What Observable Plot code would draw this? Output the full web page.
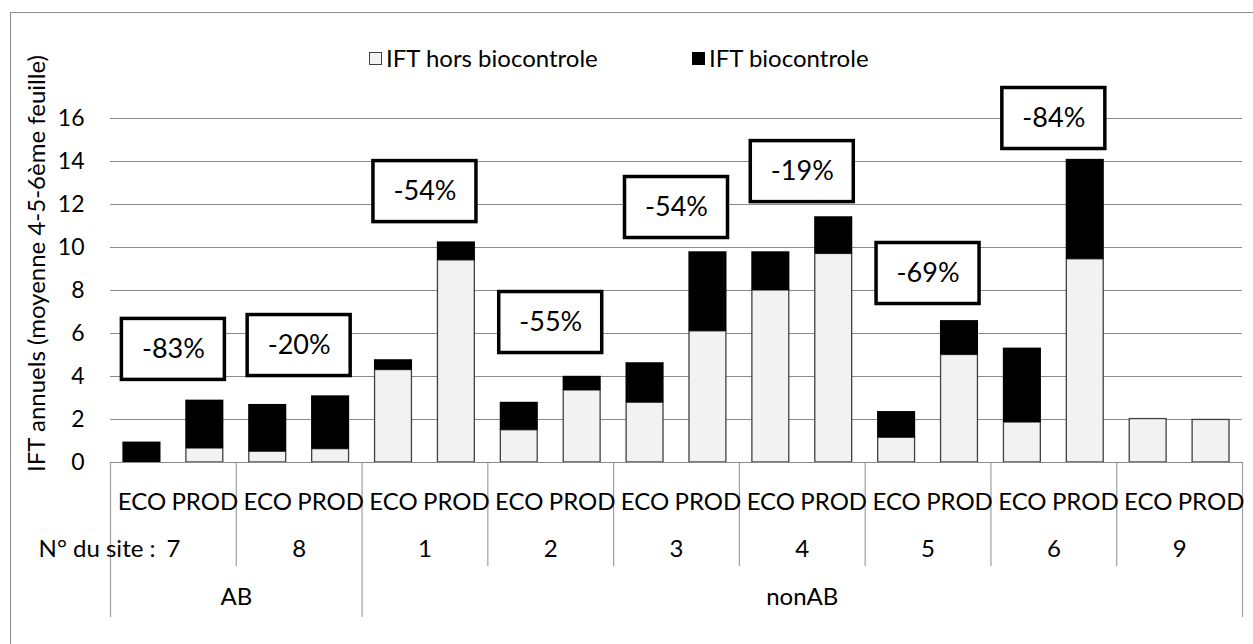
<!DOCTYPE html>
<html><head><meta charset="utf-8">
<script src="https://cdn.jsdelivr.net/npm/d3@7"></script>
<script src="https://cdn.jsdelivr.net/npm/@observablehq/plot@0.6"></script>
<style>
body{margin:0;background:#fff;}
#wrap{position:relative;width:1253px;height:644px;overflow:hidden;font-family:Lato,"Open Sans",sans-serif;color:#000;}
#border{position:absolute;left:10px;top:12px;width:1300px;height:700px;border:1.5px solid #8c8c8c;box-sizing:border-box;}
#chart{position:absolute;left:0;top:0;}
.leg{position:absolute;top:44px;font-size:24px;line-height:28px;white-space:nowrap;display:flex;align-items:center;}
.sw{display:inline-block;width:13px;height:13px;box-sizing:border-box;margin-right:4px;}
</style></head>
<body><div id="wrap"><div id="border"></div><div id="chart"></div>
<div class="leg" style="left:369px"><span class="sw" id="sw0"></span><span id="lg0"></span></div>
<div class="leg" style="left:692px"><span class="sw" id="sw1"></span><span id="lg1"></span></div>
</div>
<script>
// ---- data ----
const groups = ["AB", "nonAB"];
const sites = ["7", "8", "1", "2", "3", "4", "5", "6", "9"];
const siteGroups = ["AB", "AB", "nonAB", "nonAB", "nonAB", "nonAB", "nonAB", "nonAB", "nonAB"];
const types = ["ECO", "PROD"];
const series = ["IFT hors biocontrole", "IFT biocontrole"];
// values per bar, in order site x type (ECO, PROD)
const horsBio = [0, 0.65, 0.5, 0.62, 4.3, 9.4, 1.5, 3.35, 2.78, 6.1, 8.0, 9.7, 1.15, 5.0, 1.86, 9.45, 2.02, 1.98];
const bio = [0.95, 2.25, 2.2, 2.48, 0.48, 0.86, 1.3, 0.66, 1.86, 3.7, 1.8, 1.73, 1.22, 1.6, 3.46, 4.65, 0, 0];
const reductions = ["-83%", "-20%", "-54%", "-55%", "-54%", "-19%", "-69%", "-84%"];
const reductionLevel = [5.26, 5.44, 12.6, 6.51, 11.86, 13.53, 8.79, 16.0];
const yTicks = [0, 2, 4, 6, 8, 10, 12, 14, 16];
const yTitle = "IFT annuels (moyenne 4-5-6ème feuille)";
const siteLabelPrefix = "N° du site :";

// ---- derived tables ----
const rows = [];
sites.forEach((s, i) => types.forEach((t, j) => {
  const k = i * types.length + j;
  rows.push({site: s, type: t, slot: k, hors: horsBio[k], bio: bio[k], total: horsBio[k] + bio[k]});
}));
const nSlots = rows.length;
const siteRows = sites.map((s, i) => ({site: s, center: i * 2 + 1, start: i * 2}));
const groupRows = groups.map(g => {
  const idx = siteGroups.map((v, i) => v === g ? i : -1).filter(i => i >= 0);
  const a = idx[0] * 2, b = (idx[idx.length - 1] + 1) * 2;
  return {group: g, start: a, end: b, center: (a + b) / 2};
});
const groupStarts = new Set(groupRows.map(d => d.start));
const siteSeps = siteRows.filter(d => !groupStarts.has(d.start) && d.start > 0).map(d => d.start);
const groupSeps = [...groupRows.map(d => d.start), nSlots];
const labels = reductions.map((r, i) => ({text: r, center: siteRows[i].center, level: reductionLevel[i]}));

const colHors = "#f2f2f2", colBio = "#000000", grid = "#8a8a8a", sep = "#a0a0a0";

const chart = Plot.plot({
  width: 1253, height: 644,
  marginLeft: 110, marginRight: 11, marginTop: 118, marginBottom: 182,
  x: {domain: [0, nSlots], axis: null},
  y: {domain: [0, 16], axis: null},
  style: {fontFamily: "Lato, 'Open Sans', sans-serif", fontSize: "23px", color: "#000", background: "transparent"},
  marks: [
    Plot.ruleY(yTicks, {stroke: grid, strokeWidth: 1.2}),
    Plot.axisY(yTicks, {tickSize: 0, tickPadding: 26, fontSize: 23, label: null}),
    Plot.text([yTitle], {frameAnchor: "left", textAnchor: "middle", dx: -73, dy: -27, rotate: -90, fontSize: 24}),
    Plot.rectY(rows.filter(d => d.hors > 0), {x1: "slot", x2: d => d.slot + 1, y1: () => 0, y2: "hors", insetLeft: 13, insetRight: 13, fill: colHors, stroke: "#404040", strokeWidth: 1.3}),
    Plot.rectY(rows.filter(d => d.bio > 0), {x1: "slot", x2: d => d.slot + 1, y1: "hors", y2: "total", insetLeft: 12.4, insetRight: 12.4, fill: colBio}),
    Plot.ruleX(siteSeps, {x: d => d, y1: () => 0, y2: () => 0, insetBottom: -104, stroke: sep, strokeWidth: 1.2}),
    Plot.ruleX(groupSeps, {x: d => d, y1: () => 0, y2: () => 0, insetBottom: -155, stroke: sep, strokeWidth: 1.2}),
    Plot.text(rows, {x: d => d.slot + 0.5, text: "type", frameAnchor: "bottom", dy: 47, fontSize: 24}),
    Plot.text(siteRows, {x: "center", text: "site", frameAnchor: "bottom", dy: 94, fontSize: 24}),
    Plot.text([siteLabelPrefix], {frameAnchor: "bottom-left", textAnchor: "end", dx: 45, dy: 94, fontSize: 24}),
    Plot.text(groupRows, {x: "center", text: "group", frameAnchor: "bottom", dy: 142, fontSize: 24}),
    Plot.rect(labels, {x1: "center", x2: "center", y1: "level", y2: "level", insetLeft: -51.5, insetRight: -51.5, insetTop: -30.5, insetBottom: -30.5, fill: "white", stroke: "black", strokeWidth: 3.5}),
    Plot.text(labels, {x: "center", y: "level", text: "text", fontSize: 27}),
    Plot.ruleY([0], {stroke: grid, strokeWidth: 1.2})
  ]
});
document.getElementById("chart").appendChild(chart);
document.getElementById("lg0").textContent = series[0];
document.getElementById("lg1").textContent = series[1];
const sw0 = document.getElementById("sw0"); sw0.style.background = colHors; sw0.style.border = "1px solid #404040";
const sw1 = document.getElementById("sw1"); sw1.style.background = colBio;
</script></body></html>
